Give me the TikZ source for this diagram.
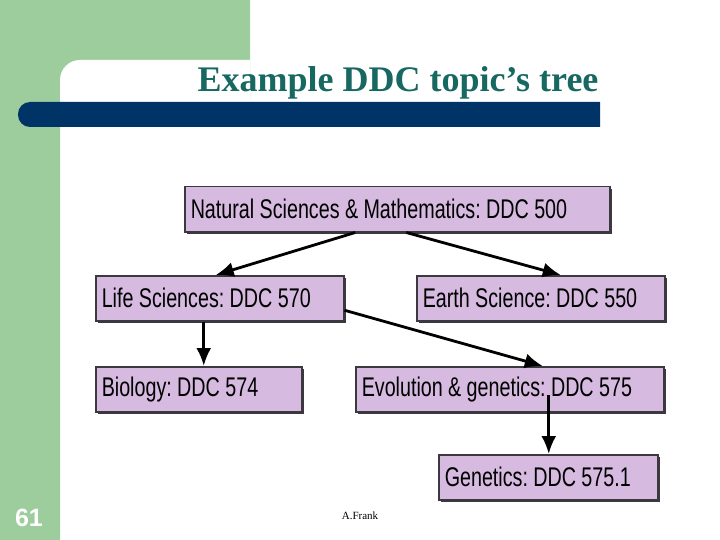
\documentclass[tikz,border=0pt]{standalone}
\usepackage{fontspec}
\setmainfont{Liberation Serif}
\newfontfamily\ddcfont[FakeStretch=0.73]{Liberation Sans}
\newfontfamily\numfont{Liberation Sans}
\usetikzlibrary{arrows.meta,shadows}
\definecolor{slidegreen}{RGB}{157,205,157}
\definecolor{barblue}{RGB}{0,51,102}
\definecolor{titleteal}{RGB}{24,104,98}
\definecolor{boxfill}{RGB}{214,186,224}
\definecolor{boxline}{RGB}{60,56,64}
\tikzset{
  ddcbox/.style={draw=boxline,fill=boxfill,line width=1.5pt,anchor=north west,
    align=left,inner xsep=6pt,minimum height=45pt,
    font=\ddcfont\fontsize{27}{29}\selectfont,
    execute at begin node={\spaceskip=0.2em\relax},
    drop shadow={shadow xshift=2pt,shadow yshift=-2pt,fill=boxline,opacity=1}}
}
\frenchspacing
\begin{document}
\begin{tikzpicture}[x=1pt,y=-1pt,line width=2.8pt,>={Latex[length=18pt,width=15pt]}]
		\useasboundingbox (0,0) rectangle (720,540);
		% slide background
		\fill[slidegreen] (0,0) rectangle (250,100) (0,0) rectangle (60,540);
		\fill[white] (60,100) [rounded corners=20pt] -- (60,60) [sharp corners] -- (250,60) -- (250,100) -- cycle;
		\fill[barblue] (600,102) [rounded corners=12pt] -- (18,102) -- (18,127) [sharp corners] -- (600,127) -- cycle;
		\node[text=titleteal,font=\bfseries\fontsize{36}{38}\selectfont] (title) at (398,83) {Example DDC topic’s tree};
		% tree
		\node[ddcbox,text width=413pt] (nat) at (184,186) {Natural Sciences \& Mathematics: DDC 500};
		\node[ddcbox,text width=236pt] (life) at (95,275) {Life Sciences: DDC 570};
		\node[ddcbox,text width=236pt] (earth) at (416,275) {Earth Science: DDC 550};
		\node[ddcbox,text width=194pt] (bio) at (95,366) {Biology: DDC 574};
		\node[ddcbox,text width=296pt] (evol) at (355,366) {Evolution \& genetics: DDC 575};
		\node[ddcbox,text width=207pt] (gen) at (438,454) {Genetics: DDC 575.1};
		\path[->]
		([xshift=-42pt]nat.south) edge ([xshift=-4pt]life.north)
		([xshift=9pt]nat.south) edge ([xshift=20pt]earth.north)
		([yshift=-12pt]life.east) edge ([xshift=33pt]evol.north)
		([xshift=-16pt]life.south) edge ([xshift=-16pt]life.south |- bio.north)
		([xshift=39pt,yshift=-6pt]evol.center) edge ([xshift=39pt]evol.center |- gen.north);
		% footer
		\node[text=white,font=\numfont\bfseries\fontsize{25}{27}\selectfont] (page) at (29,518) {61};
		\node[font=\fontsize{11}{13}\selectfont] (author) at (360,516) {A.Frank};
	\end{tikzpicture}
\end{document}
